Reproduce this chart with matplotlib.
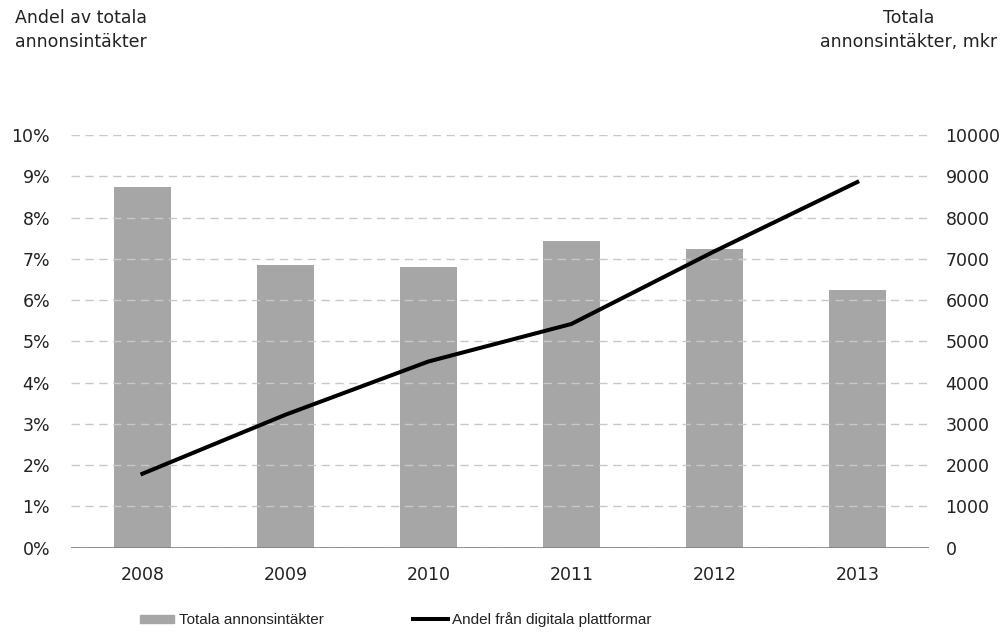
import matplotlib.pyplot as plt

years = ['2008', '2009', '2010', '2011', '2012', '2013']
total_revenue = [8730, 6860, 6790, 7420, 7230, 6250]   # mkr
digital_share = [1.79, 3.22, 4.51, 5.42, 7.18, 8.86]   # procent

plt.rcParams['font.family'] = ['DejaVu Sans']

fig = plt.figure(figsize=(10.08, 6.41), dpi=100)
ax = fig.add_axes([0.0704, 0.1457, 0.851, 0.6437])
ax2 = ax.twinx()

x = range(len(years))

# staplar på höger axel, linje på vänster
ax2.bar(x, total_revenue, width=0.4, color='#a6a6a6', zorder=2)
ax2.set_ylim(0, 10000)
ax2.set_yticks(range(0, 10001, 1000))

ax.set_ylim(0, 10)
ax.set_yticks(range(0, 11))
ax.set_yticklabels([f'{v}%' for v in range(0, 11)])
ax.set_xlim(-0.5, len(years) - 0.5)
ax.set_xticks(list(x))
ax.set_xticklabels(years)
ax.yaxis.grid(True, color='#c8c8c8', linestyle=(0, (6, 4)), linewidth=1)
ax.set_axisbelow(True)

# linjen ritas ovanför staplarna
ax.set_zorder(ax2.get_zorder() + 1)
ax.patch.set_visible(False)
ax.plot(list(x), digital_share, color='black', linewidth=2.9, zorder=5)

for a in (ax, ax2):
    for s in ('top', 'right', 'left', 'bottom'):
        a.spines[s].set_visible(False)
ax.axhline(0, color='#7f7f7f', linewidth=1.2, zorder=6)

ax.tick_params(axis='y', length=0, pad=15, labelsize=12.5, colors='#222222')
ax.tick_params(axis='x', length=0, pad=13, labelsize=12.5, colors='#222222')
ax2.tick_params(axis='y', length=0, pad=12, labelsize=12.5, colors='#222222')

fig.text(0.015, 1 - 9 / 641, 'Andel av totala\nannonsintäkter', ha='left', va='top',
         fontsize=12.5, color='#222222', linespacing=1.45)
fig.text(0.901, 1 - 9 / 641, 'Totala\nannonsintäkter, mkr', ha='center', va='top',
         fontsize=12.5, color='#222222', linespacing=1.45, multialignment='center')

# förklaring
legend_font = ['Liberation Sans Narrow', 'Liberation Sans', 'DejaVu Sans']
fig.patches.append(plt.Rectangle((140 / 1008, 1 - 623 / 641), 34 / 1008, 8 / 641,
                                 transform=fig.transFigure, color='#a6a6a6'))
fig.text(179 / 1008, 1 - 620 / 641, 'Totala annonsintäkter', ha='left', va='center',
         fontsize=11, family=legend_font, color='#222222')
fig.lines.append(plt.Line2D([413 / 1008, 448 / 1008], [1 - 619 / 641, 1 - 619 / 641],
                            transform=fig.transFigure, color='black', linewidth=2.9))
fig.text(452 / 1008, 1 - 620 / 641, 'Andel från digitala plattformar', ha='left', va='center',
         fontsize=11, family=legend_font, color='#222222')

fig.savefig('out.png', dpi=100)
